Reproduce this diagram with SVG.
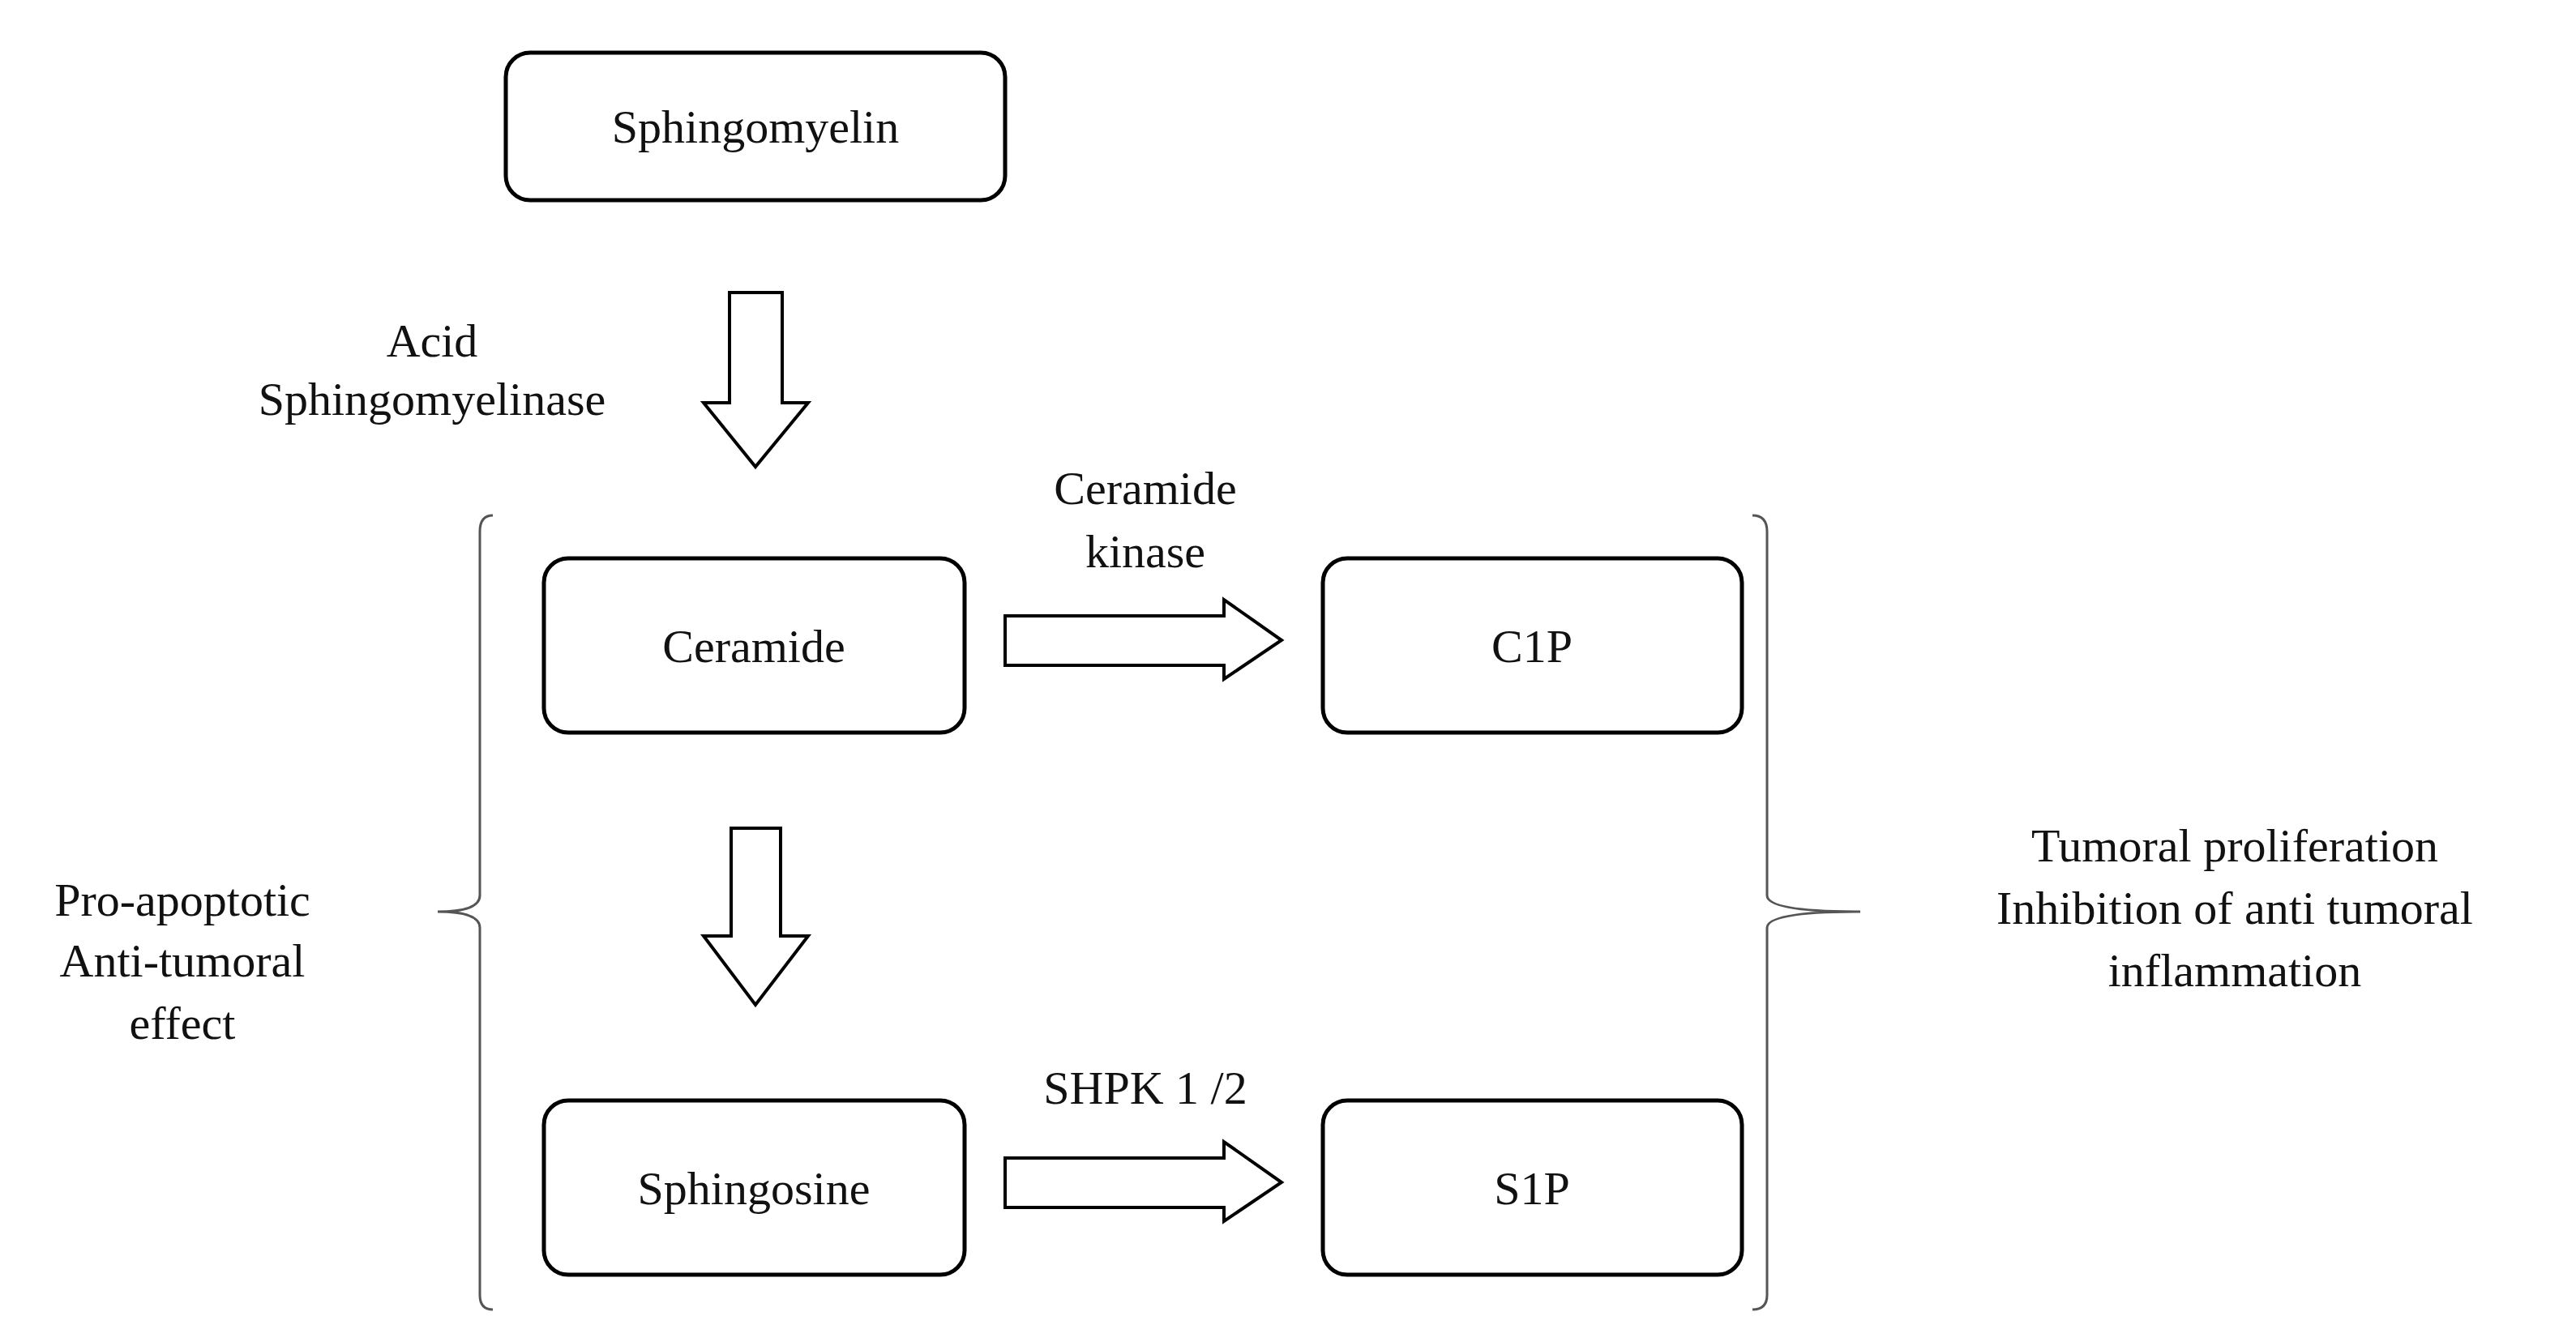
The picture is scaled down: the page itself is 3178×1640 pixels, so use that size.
<svg xmlns="http://www.w3.org/2000/svg" width="3178" height="1640" viewBox="0 0 3178 1640">
<style>
.box{fill:#fff;stroke:#000;stroke-width:5}
.arr{fill:#fff;stroke:#000;stroke-width:4;stroke-linejoin:miter}
.br{fill:none;stroke:#555;stroke-width:3}
text{font-family:"Liberation Serif",serif;font-size:58px;fill:#111;text-anchor:middle}
</style>
<rect width="3178" height="1640" fill="#fff"/>
<g id="sphingomyelin"><rect class="box" x="624" y="65" width="616" height="182" rx="30"/><text x="932" y="176">Sphingomyelin</text></g>
<g id="ceramide"><rect class="box" x="671" y="689" width="519" height="215" rx="30"/><text x="930" y="817">Ceramide</text></g>
<g id="c1p"><rect class="box" x="1632" y="689" width="517" height="215" rx="30"/><text x="1890" y="817">C1P</text></g>
<g id="sphingosine"><rect class="box" x="671" y="1358" width="519" height="215" rx="30"/><text x="930" y="1486">Sphingosine</text></g>
<g id="s1p"><rect class="box" x="1632" y="1358" width="517" height="215" rx="30"/><text x="1890" y="1486">S1P</text></g>
<g id="connectors">
<path class="arr" d="M900,361 H965 V497 H997 L932,576 L868,497 H900 Z"/>
<path class="arr" d="M902,1022 H963 V1155 H997 L932,1240 L868,1155 H902 Z"/>
<path class="arr" d="M1240,760 H1510 V740 L1581,790 L1510,838 V821 H1240 Z"/>
<path class="arr" d="M1240,1429 H1510 V1409 L1581,1459 L1510,1507 V1490 H1240 Z"/>
<path class="br" d="M608,636 Q592,636 592,656 L592,1105 Q592,1125 540,1125 Q592,1125 592,1145 L592,1598 Q592,1616 608,1616"/>
<path class="br" d="M2162,636 Q2180,636 2180,656 L2180,1105 Q2180,1125 2295,1125 Q2180,1125 2180,1145 L2180,1598 Q2180,1616 2162,1616"/>
</g>
<g id="labels">
<text x="533" y="440">Acid</text>
<text x="533" y="512">Sphingomyelinase</text>
<text x="1413" y="622">Ceramide</text>
<text x="1413" y="700">kinase</text>
<text x="1413" y="1362">SHPK 1 /2</text>
<text x="225" y="1130">Pro-apoptotic</text>
<text x="225" y="1205">Anti-tumoral</text>
<text x="225" y="1282">effect</text>
<text x="2757" y="1063">Tumoral proliferation</text>
<text x="2757" y="1140">Inhibition of anti tumoral</text>
<text x="2757" y="1217">inflammation</text>
</g>
</svg>
